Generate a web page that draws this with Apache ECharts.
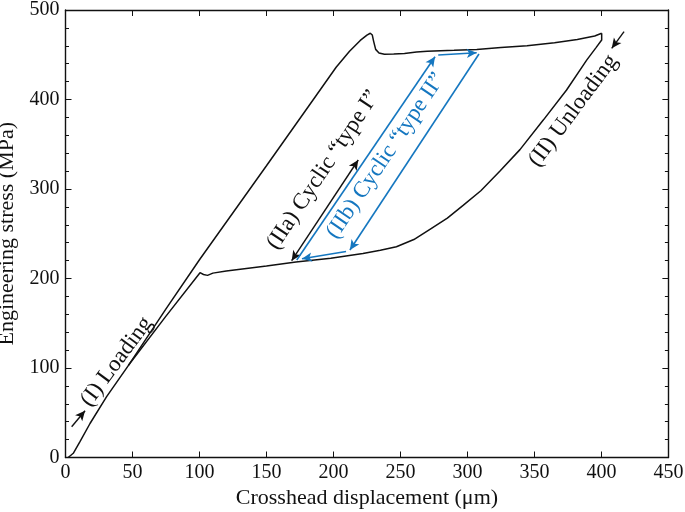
<!DOCTYPE html>
<html><head><meta charset="utf-8">
<script src="https://cdn.jsdelivr.net/npm/echarts/dist/echarts.min.js"></script>
<style>html,body{margin:0;padding:0;background:#fff}#c{width:685px;height:512px}</style>
</head><body><div id="c"></div>
<script>
// Path 1: loading, plateau and rise to 400 µm
const loadDisp   = [2, 5.8, 10.8, 18.3, 30.7, 47, 75, 100.4, 101.5, 103, 106, 110, 120, 150, 172, 198, 222, 235, 247, 260, 272, 285, 297, 310, 324.3, 339.2, 356.6, 374, 389, 396, 400.2, 400.2];
const loadStress = [0, 4.7, 17.7, 38, 68, 103, 158, 206.5, 208, 204.5, 203.5, 206, 208.5, 214, 218.5, 222.5, 228, 231.5, 235.5, 243.5, 255, 267.5, 282, 298, 320, 344, 377, 410.6, 444, 458, 466.5, 474];
// Path 2: upper plateau, peak and return line
const upperDisp   = [400.2, 395, 382, 365, 344.5, 325, 307, 290, 270, 262, 253, 245, 238, 234, 231.5, 230, 229, 227.5, 225, 220, 212, 202, 185, 150, 100, 75, 47];
const upperStress = [474, 471, 467, 463.5, 460, 458, 456, 455, 454, 453, 451.5, 450.8, 450.5, 452, 456, 465, 472, 474, 472, 466, 454, 436, 400, 326, 221, 166, 103];

// Axis ticks
const xTickMin = 0, xTickMax = 450, xTickStep = 50;
const yTickMin = 0, yTickMax = 500, yTickStep = 100;

// Annotation arrows (data units): [x1, y1, x2, y2]
const blackArrows = [[168.8, 219.9, 218.5, 332.4], [4.6, 34.4, 14.6, 52.3], [416.9, 475.8, 407.7, 457.2]];
const blackArrowDouble = [true, false, false];
const blueArrows = [[172.6, 220.7, 275.8, 447.8], [278.2, 449.7, 306.9, 452.3], [308.6, 450.8, 212.3, 231.8], [209.4, 230.2, 176.5, 222.1]];

// Annotation labels
const annoText  = ['(I) Loading', '(IIa) Cyclic \u201Ctype I\u201D', '(IIb) Cyclic \u201Ctype II\u201D', '(II) Unloading'];
const annoX     = [38.2, 192.4, 239.1, 379];
const annoY     = [107, 321.2, 337.1, 387.4];
const annoAngle = [53.5, 56.5, 56, 53.3];
const annoColor = ['#111', '#111', '#1577c0', '#111'];

const FONT = '"Liberation Serif", "Times New Roman", serif';
const zip = (a, b) => a.map((v, i) => [v, b[i]]);

function arrowLines(list, dbl) {
  return list.map((a, i) => [
    { coord: [a[0], a[1]], symbol: (dbl && dbl[i]) ? 'arrow' : 'none' },
    { coord: [a[2], a[3]], symbol: 'arrow' }
  ]);
}

const chart = echarts.init(document.getElementById('c'), null, { renderer: 'canvas' });

const axisCommon = {
  axisLine: { show: true, onZero: false, lineStyle: { color: '#111', width: 1.4 } },
  axisTick: { show: true, inside: true, length: 6, lineStyle: { color: '#111', width: 1 } },
  splitLine: { show: false }
};

const option = {
  animation: false,
  backgroundColor: '#fff',
  grid: { left: 65.5, right: 16.6, top: 10, bottom: 54.5, containLabel: false, outerBoundsMode: 'none' },
  xAxis: [
    Object.assign({}, axisCommon, {
      type: 'value', position: 'bottom', min: xTickMin, max: xTickMax, interval: xTickStep,
      axisLabel: { color: '#111', fontSize: 20, fontFamily: FONT, margin: 5 },
      name: 'Crosshead displacement (\u03BCm)', nameLocation: 'middle', nameGap: 27,
      nameTextStyle: { color: '#111', fontSize: 22, fontFamily: FONT }
    }),
    Object.assign({}, axisCommon, {
      type: 'value', position: 'top', min: xTickMin, max: xTickMax, interval: xTickStep,
      axisLabel: { show: false }
    })
  ],
  yAxis: [
    Object.assign({}, axisCommon, {
      type: 'value', position: 'left', min: yTickMin, max: yTickMax, interval: yTickStep,
      minorTick: { show: true, splitNumber: 5, length: 3.5, lineStyle: { color: '#111', width: 1 } },
      axisLabel: { color: '#111', fontSize: 20, fontFamily: FONT, margin: 6 },
      name: 'Engineering stress (MPa)', nameLocation: 'middle', nameGap: 43,
      nameTextStyle: { color: '#111', fontSize: 22, fontFamily: FONT }
    }),
    Object.assign({}, axisCommon, {
      type: 'value', position: 'right', min: yTickMin, max: yTickMax, interval: yTickStep,
      minorTick: { show: true, splitNumber: 5, length: 3.5, lineStyle: { color: '#111', width: 1 } },
      axisLabel: { show: false }
    })
  ],
  series: [
    {
      type: 'line', name: 'loading', data: zip(loadDisp, loadStress), showSymbol: false,
      lineStyle: { color: '#111', width: 1.5 }, silent: true
    },
    {
      type: 'line', name: 'upper', data: zip(upperDisp, upperStress), showSymbol: false,
      lineStyle: { color: '#111', width: 1.5 }, silent: true
    },
    {
      type: 'line', name: 'blackArrows', data: [], silent: true,
      markLine: {
        silent: true, animation: false, symbolSize: [7, 10],
        label: { show: false },
        lineStyle: { color: '#111', width: 1.4, type: 'solid' },
        emphasis: { disabled: true },
        data: arrowLines(blackArrows, blackArrowDouble)
      }
    },
    {
      type: 'line', name: 'blueArrows', data: [], silent: true,
      markLine: {
        silent: true, animation: false, symbolSize: [7, 10],
        label: { show: false },
        lineStyle: { color: '#1577c0', width: 1.6, type: 'solid' },
        emphasis: { disabled: true },
        data: arrowLines(blueArrows, null)
      }
    }
  ]
};

chart.setOption(option);

const graphics = annoText.map((t, i) => {
  const p = chart.convertToPixel({ xAxisIndex: 0, yAxisIndex: 0 }, [annoX[i], annoY[i]]);
  return {
    type: 'text', x: p[0], y: p[1], rotation: annoAngle[i] * Math.PI / 180, silent: true,
    style: { text: t, fill: annoColor[i], font: '23px ' + FONT, align: 'center', verticalAlign: 'middle' }
  };
});
chart.setOption({ graphic: graphics });
</script>
</body></html>
